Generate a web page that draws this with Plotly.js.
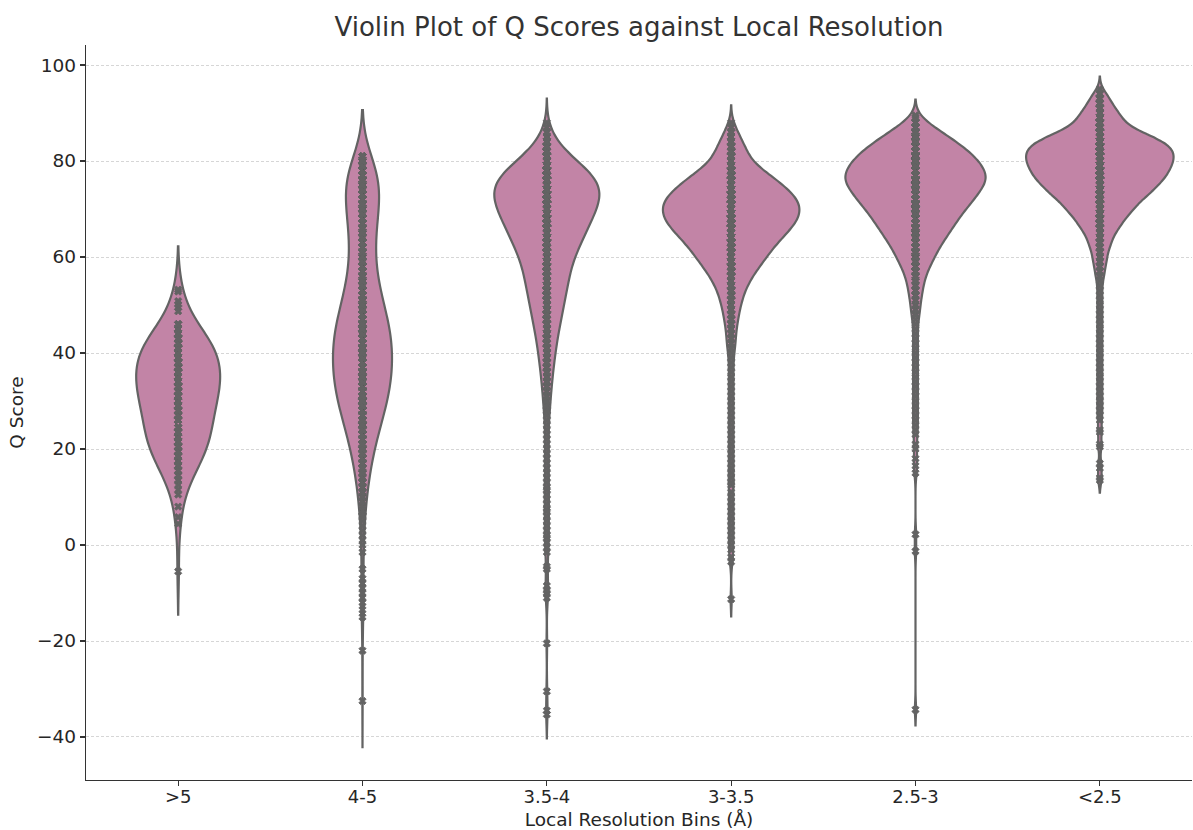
<!DOCTYPE html>
<html>
<head>
<meta charset="utf-8">
<script src="https://cdn.plot.ly/plotly-3.0.1.min.js"></script>
<style>html,body{margin:0;padding:0;background:#fff;}#chart{width:1193px;height:830px;}</style>
</head>
<body>
<div id="chart"></div>
<script>
// ---- Data ----
const categories = ['>5', '4-5', '3.5-4', '3-3.5', '2.5-3', '<2.5'];

// Q-score values and how many residues sit at each value, per resolution bin
const q_gt5 = [-5.5, 4.4, 5.8, 8, 10.5, 11.5, 12.5, 13.5, 14.5, 15.5, 16.5, 17.5, 18.5, 19.5, 20.5, 21.5, 22.5, 23.5, 24.5, 26, 27, 28, 29, 30, 31, 32, 33, 34, 35, 36, 37, 38, 39, 40, 41, 42, 43, 44, 45, 46, 48.7, 49.5, 50.1, 50.8, 52.8, 53.2];
const n_gt5 = [1, 1, 1, 1, 1, 1, 1, 2, 2, 2, 3, 3, 4, 4, 5, 5, 5, 5, 5, 5, 5, 5, 5, 5, 6, 6, 6, 6, 6, 6, 6, 6, 6, 6, 6, 5, 5, 4, 4, 3, 1, 1, 1, 1, 1, 1];

const q_4_5 = [1, 2, 3, 4, 5, 6, 7, 8, 9, 10, 11, 12, 13, 14, 15, 16, 17, 18, 19, 20, 21, 22, 23, 24, 25, 26, 27, 28, 29, 30, 31, 32, 33, 34, 35, 36, 37, 38, 39, 40, 41, 42, 43, 44, 45, 46, 47, 48, 49, 50, 51, 52, 53, 54, 55, 56, 57, 58, 59, 60, 61, 62, 63, 64, 65, 66, 67, 68, 69, 70, 71, 72, 73, 74, 75, 76, 77, 78, 79, 80, 81];
const n_4_5 = [1, 1, 1, 1, 1, 2, 2, 2, 2, 3, 3, 3, 4, 4, 5, 5, 6, 6, 7, 8, 8, 9, 10, 11, 12, 13, 14, 15, 16, 17, 18, 18, 19, 19, 20, 20, 20, 20, 20, 20, 20, 20, 20, 20, 19, 18, 17, 16, 15, 14, 13, 12, 12, 11, 10, 9, 9, 8, 8, 8, 8, 8, 8, 8, 9, 9, 9, 10, 10, 11, 12, 12, 12, 13, 13, 12, 12, 12, 11, 10, 7];
const out_4_5 = [-32.5, -22, -15, -13.5, -12, -11, -10, -9, -8, -7, -5, -1.5, 0];

const q_35_4 = [20, 21, 22, 23, 24, 25, 26, 27, 28, 29, 30, 31, 32, 33, 34, 35, 36, 37, 38, 39, 40, 41, 42, 43, 44, 45, 46, 47, 48, 49, 50, 51, 52, 53, 54, 55, 56, 57, 58, 59, 60, 61, 62, 63, 64, 65, 66, 67, 68, 69, 70, 71, 72, 73, 74, 75, 76, 77, 78, 79, 80, 81, 82, 83, 84, 85, 86, 87, 88];
const n_35_4 = [1, 1, 1, 1, 1, 1, 1, 1, 2, 2, 2, 2, 2, 3, 3, 3, 3, 4, 4, 4, 5, 5, 5, 6, 6, 7, 7, 8, 8, 9, 9, 10, 10, 11, 11, 12, 12, 13, 13, 14, 15, 16, 17, 19, 20, 21, 22, 23, 25, 26, 27, 28, 29, 30, 30, 29, 28, 26, 23, 20, 16, 13, 10, 8, 5, 4, 2, 2, 1];
const out_35_4 = [-35.3, -34.5, -30.5, -20.5, -11, -10, -9.5, -8.5, -5, -4.5, -1.5, -0.5, 0.5, 1.5, 2, 3, 4, 5, 6, 7, 7.5, 8.5, 9.5, 10.5, 11.5, 12, 13, 14, 15, 16, 17, 18, 19];

const q_3_35 = [33, 34, 35, 36, 37, 38, 39, 40, 41, 42, 43, 44, 45, 46, 47, 48, 49, 50, 51, 52, 53, 54, 55, 56, 57, 58, 59, 60, 61, 62, 63, 64, 65, 66, 67, 68, 69, 70, 71, 72, 73, 74, 75, 76, 77, 78, 79, 80, 81, 82, 83, 84, 85, 86, 87, 88];
const n_3_35 = [1, 1, 1, 1, 1, 1, 1, 1, 2, 2, 2, 2, 2, 3, 3, 3, 4, 4, 5, 5, 6, 7, 8, 9, 11, 12, 14, 15, 17, 18, 20, 22, 24, 26, 28, 29, 30, 30, 30, 29, 27, 25, 22, 20, 17, 14, 11, 8, 8, 7, 6, 5, 4, 3, 2, 1];
const out_3_35 = [-11.3, -3.5, -2.5, -1, 0, 1, 2, 3, 4, 5, 6, 7, 8, 9, 10, 11, 12.5, 13, 14, 15, 16, 17, 18, 19, 20, 21, 22, 23, 24, 25, 26, 27, 28, 29, 30, 31, 32];

const q_25_3 = [40, 41, 42, 43, 44, 45, 46, 47, 48, 49, 50, 51, 52, 53, 54, 55, 56, 57, 58, 59, 60, 61, 62, 63, 64, 65, 66, 67, 68, 69, 70, 71, 72, 73, 74, 75, 76, 77, 78, 79, 80, 81, 82, 83, 84, 85, 86, 87, 88, 89, 89.5];
const n_25_3 = [1, 1, 1, 1, 1, 1, 1, 1, 2, 2, 2, 2, 3, 3, 3, 4, 4, 5, 6, 7, 8, 9, 10, 11, 13, 14, 15, 17, 18, 19, 21, 23, 24, 26, 27, 29, 30, 30, 29, 28, 26, 25, 22, 20, 17, 14, 11, 8, 5, 2, 1];
const out_25_3 = [-34.3, -1.3, 2.2, 15, 16.5, 18, 20, 21, 23, 24, 25, 26, 27, 28, 29, 30, 31, 32, 33, 34, 35, 36, 37, 38, 39];

const q_lt25 = [50, 51, 52, 53, 54, 55, 56, 57, 58, 59, 60, 61, 62, 63, 64, 65, 66, 67, 68, 69, 70, 71, 72, 73, 74, 75, 76, 77, 78, 79, 80, 81, 82, 83, 84, 85, 86, 87, 88, 89, 90, 91, 92, 93, 94, 95];
const n_lt25 = [1, 1, 1, 1, 1, 1, 2, 2, 2, 3, 3, 3, 4, 5, 5, 6, 8, 9, 10, 12, 14, 15, 17, 20, 22, 23, 26, 27, 28, 29, 30, 30, 30, 29, 26, 22, 17, 12, 10, 9, 8, 6, 5, 4, 3, 1];
const out_lt25 = [13.5, 14, 16, 17, 20.5, 21, 23.5, 24, 26, 27, 28, 29, 30, 31, 32, 33, 34, 35, 36, 37, 38, 39, 40, 41, 42, 43, 44, 45, 46, 47, 48, 49];

// ---- Build samples (values repeated by their counts, plus single outliers) ----
function expand(values, counts, extra) {
  const out = [];
  values.forEach((v, i) => { for (let k = 0; k < counts[i]; k++) out.push(v); });
  (extra || []).forEach(v => out.push(v));
  return out;
}
const samples = [
  expand(q_gt5, n_gt5, []),
  expand(q_4_5, n_4_5, out_4_5),
  expand(q_35_4, n_35_4, out_35_4),
  expand(q_3_35, n_3_35, out_3_35),
  expand(q_25_3, n_25_3, out_25_3),
  expand(q_lt25, n_lt25, out_lt25)
];

// ---- Styling ----
const style = {
  widths: [0.455, 0.32, 0.57, 0.74, 0.76, 0.8],
  bandwidths: [4.5, 4.8, 2.5, 1.8, 1.65, 1.3],
  fill: '#C284A6',
  edge: '#636363'
};

const traces = categories.map((cat, i) => ({
  type: 'violin',
  x: samples[i].map(() => cat),
  y: samples[i],
  name: cat,
  width: style.widths[i],
  bandwidth: style.bandwidths[i],
  scalemode: 'width',
  spanmode: 'soft',
  points: 'all',
  jitter: 0,
  pointpos: 0,
  marker: { symbol: 'x', size: 6.5, color: style.edge, line: { width: 0.8, color: style.edge } },
  line: { color: style.edge, width: 2.2 },
  fillcolor: style.fill,
  box: { visible: false },
  meanline: { visible: false },
  hoverinfo: 'skip',
  showlegend: false
}));

const layout = {
  width: 1193,
  height: 830,
  margin: { l: 86, r: 1, t: 45, b: 50 },
  paper_bgcolor: '#ffffff',
  plot_bgcolor: '#ffffff',
  font: { family: 'DejaVu Sans, sans-serif', size: 18, color: '#262626' },
  title: {
    text: 'Violin Plot of Q Scores against Local Resolution',
    font: { family: 'DejaVu Sans, sans-serif', size: 26, color: '#333333' },
    xref: 'paper', x: 0.5, xanchor: 'center',
    yref: 'container', y: 0.968, yanchor: 'middle'
  },
  violinmode: 'overlay',
  xaxis: {
    type: 'category',
    categoryorder: 'array',
    categoryarray: categories,
    range: [-0.5, 5.5],
    showline: true, linecolor: '#333333', linewidth: 1.3,
    ticks: 'outside', ticklen: 5, tickwidth: 1.2, tickcolor: '#333333',
    ticklabelstandoff: -5,
    showgrid: false, zeroline: false,
    tickfont: { size: 18, color: '#262626' },
    title: { text: 'Local Resolution Bins (Å)', font: { size: 18.5, color: '#262626' }, standoff: 9 }
  },
  yaxis: {
    range: [-48.96, 104.17],
    tickvals: [-40, -20, 0, 20, 40, 60, 80, 100],
    showline: true, linecolor: '#333333', linewidth: 1.3,
    ticks: 'outside', ticklen: 5, tickwidth: 1.2, tickcolor: '#333333',
    showgrid: true, gridcolor: '#cccccc', gridwidth: 0.8, griddash: '3px,2px',
    zeroline: false,
    tickfont: { size: 18.5, color: '#262626' },
    title: { text: 'Q Score', font: { size: 18.5, color: '#262626' }, standoff: 8 }
  }
};

Plotly.newPlot('chart', traces, layout, { staticPlot: true, displayModeBar: false });
</script>
</body>
</html>
